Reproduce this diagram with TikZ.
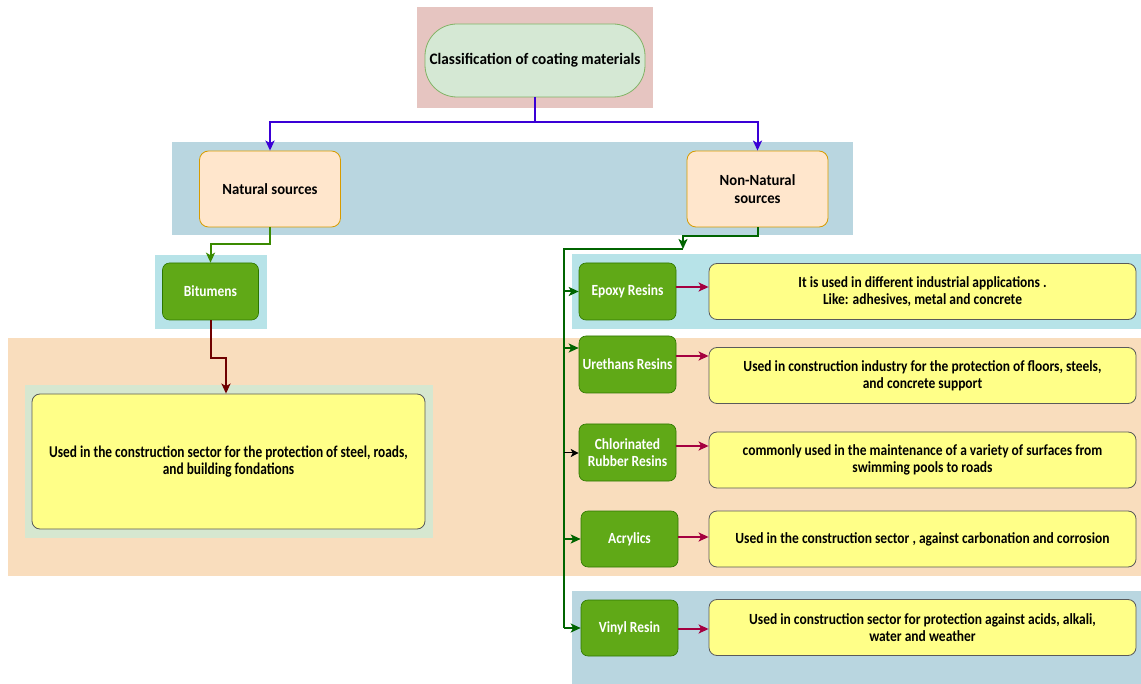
\documentclass[tikz,border=0pt]{standalone}
\usepackage{fontspec}
\setmainfont{Carlito}
\newfontfamily\descfont[FakeStretch=0.87]{Carlito}
\newfontfamily\bigfont[FakeStretch=0.81]{Carlito}
\newfontfamily\lblfont[FakeStretch=0.95]{Carlito}
\newfontfamily\grnfont[FakeStretch=0.87]{Carlito}
\usetikzlibrary{arrows.meta}
\definecolor{pinkbg}{HTML}{E6C5C1}
\definecolor{topfill}{HTML}{D5E8D4}
\definecolor{topline}{HTML}{82B366}
\definecolor{bluebg}{HTML}{B9D6E0}
\definecolor{cyanbg}{HTML}{B7E3E8}
\definecolor{peachbg}{HTML}{F9DDBD}
\definecolor{greenbg}{HTML}{D6E7D0}
\definecolor{orfill}{HTML}{FFE6CC}
\definecolor{orline}{HTML}{D79B00}
\definecolor{gfill}{HTML}{60A917}
\definecolor{gline}{HTML}{2D7600}
\definecolor{yfill}{HTML}{FFFF88}
\definecolor{yline}{HTML}{5A5A5A}
\definecolor{bluecon}{HTML}{3A00D6}
\definecolor{lgcon}{HTML}{3A8A00}
\definecolor{dgcon}{HTML}{006400}
\definecolor{redcon}{HTML}{6F0000}
\definecolor{crimcon}{HTML}{A50040}
\tikzset{
  txt/.style={align=center},
  topbox/.style={txt, font=\lblfont\fontsize{16}{19}\selectfont\bfseries, rectangle, rounded corners=32pt, fill=topfill, draw=topline, line width=0.8pt, minimum width=220pt, minimum height=73pt, inner sep=0pt},
  orbox/.style={txt, font=\lblfont\fontsize{15.5}{18}\selectfont\bfseries, rectangle, rounded corners=9pt, fill=orfill, draw=orline, line width=0.8pt, minimum width=141pt, minimum height=76pt, inner sep=2pt},
  gbox/.style={txt, font=\grnfont\fontsize{15.5}{16.7}\selectfont\bfseries, rectangle, rounded corners=7pt, fill=gfill, draw=gline, line width=0.6pt, text=white, minimum width=97pt, minimum height=57pt, inner sep=1pt},
  ybox/.style={txt, font=\descfont\fontsize{15.5}{16.7}\selectfont\bfseries, rectangle, rounded corners=8pt, fill=yfill, draw=yline, line width=0.8pt, minimum width=427pt, minimum height=56pt, inner sep=2pt},
  tip/.style={-{Stealth[length=10pt,width=9pt,inset=2.5pt]}},
  bcon/.style={draw=bluecon, line width=2pt},
  lgc/.style={draw=lgcon, line width=2pt},
  dgc/.style={draw=dgcon, line width=2pt},
  rcon/.style={draw=redcon, line width=2pt},
  ccon/.style={draw=crimcon, line width=2pt},
}
\begin{document}
\begin{tikzpicture}[x=1pt,y=-1pt]
\useasboundingbox (0,0) rectangle (1141,684);
% backgrounds
\fill[pinkbg] (417,7) rectangle (653,108);
\fill[bluebg] (172,142) rectangle (853,235);
\fill[cyanbg] (155,255) rectangle (267,329);
\fill[cyanbg] (572,254) rectangle (1141,329);
\fill[peachbg] (8,338) rectangle (1141,576);
\fill[greenbg] (25,385) rectangle (433,538);
\fill[bluebg] (572,591) rectangle (1141,684);
% nodes
\node[topbox] (top) at (535,60.5) {Classification of coating materials};
\node[orbox] (nat) at (270,189) {Natural sources};
\node[orbox] (nn) at (757.5,189) {Non-Natural\\sources};
\node[gbox, minimum width=96pt] (bit) at (210.5,291.5) {Bitumens};
\node[ybox, font=\bigfont\fontsize{16.5}{16.7}\selectfont\bfseries, minimum width=393pt, minimum height=135pt] (big) at (228.5,461.5) {Used in the construction sector for the protection of steel, roads,\\and building fondations};
\node[gbox] (ep) at (627.5,291.5) {Epoxy Resins};
\node[gbox] (ur) at (627.5,364.5) {Urethans Resins};
\node[gbox] (ch) at (627.5,452.5) {Chlorinated\\Rubber Resins};
\node[gbox, minimum height=56pt] (ac) at (629.5,539) {Acrylics};
\node[gbox, minimum height=56pt] (vi) at (629.5,628) {Vinyl Resin};
\node[ybox] (d1) at (922.5,291.5) {It is used in different industrial applications .\\Like: adhesives, metal and concrete};
\node[ybox] (d2) at (922.5,375.5) {Used in construction industry for the protection of floors, steels,\\and concrete support};
\node[ybox] (d3) at (922.5,460) {commonly used in the maintenance of a variety of surfaces from\\swimming pools to roads};
\node[ybox] (d4) at (922.5,539) {Used in the construction sector , against carbonation and corrosion};
\node[ybox] (d5) at (922.5,627.5) {Used in construction sector for protection against acids, alkali,\\water and weather};
% bus coordinates
\coordinate (tb) at (535,122);
\coordinate (nb) at (270,244);
\coordinate (rb) at (210.5,358);
\coordinate (rc) at (226,358);
\coordinate (nnb) at (757.5,236);
\coordinate (j) at (683,249);
\coordinate (v0) at (564,249);
\coordinate (v1) at (564,291.5);
\coordinate (v2) at (564,348);
\coordinate (v3) at (564,453);
\coordinate (v4) at (564,539);
\coordinate (v5) at (564,628);
% connectors
\draw[bcon,tip] (top.south) -- (tb) -| (nat.north);
\draw[bcon,tip] (top.south) -- (tb) -| (nn.north);
\draw[lgc,tip] (nat.south) -- (nb) -| (bit.north);
\draw[rcon,tip] (bit.south) -- (rb) -- (rc) -- (rc |- big.north);
\draw[dgc,tip] (nn.south) -- (nnb) -| (j);
\draw[dgc] (j) -- (v0) -- (v5);
\draw[dgc,tip] (v1) -- (ep.west);
\draw[dgc,tip] (v2) -- (v2 -| ur.west);
\draw[black,line width=1pt,-{Stealth[length=8pt,width=8pt,inset=2pt]}] (v3) -- (v3 -| ch.west);
\draw[dgc,tip] (v4) -- (ac.west);
\draw[dgc,tip] (v5) -- (vi.west);
\draw[ccon,tip] ([yshift=4.5pt]ep.east) -- ([yshift=4.5pt]ep.east -| d1.west);
\draw[ccon,tip] ([yshift=8.5pt]ur.east) -- ([yshift=8.5pt]ur.east -| d2.west);
\draw[ccon,tip] ([yshift=6.5pt]ch.east) -- ([yshift=6.5pt]ch.east -| d3.west);
\draw[ccon,tip] ([yshift=2pt]ac.east) -- ([yshift=2pt]ac.east -| d4.west);
\draw[ccon,tip] ([yshift=-1pt]vi.east) -- ([yshift=-1pt]vi.east -| d5.west);
\end{tikzpicture}
\end{document}
